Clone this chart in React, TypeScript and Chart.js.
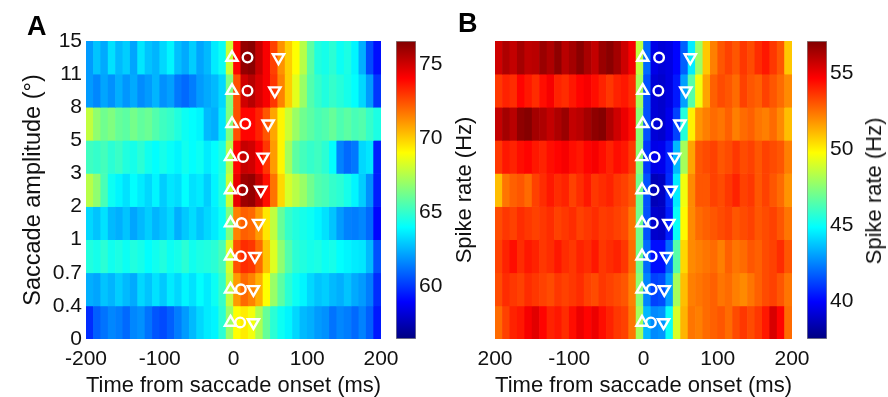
import React, { useEffect, useRef } from 'react';
import { Chart, registerables } from 'chart.js';

Chart.register(...registerables);

// ---------- data ----------
// time bins (ms from saccade onset), edges of 10 ms bins
const binEdges = [
  -200, -190, -180, -170, -160, -150, -140, -130, -120, -110,
  -100, -90, -80, -70, -60, -50, -40, -30, -20, -10,
  0, 10, 20, 30, 40, 50, 60, 70, 80, 90,
  100, 110, 120, 130, 140, 150, 160, 170, 180, 190, 200,
];
const timeTicks = [-200, -100, 0, 100, 200];
// saccade amplitude bin edges (deg), bottom -> top
const amplitudeEdges = ['0', '0.4', '0.7', '1', '2', '3', '5', '8', '11', '15'];

// Panel A: spike rate (Hz) per amplitude row (top row first)
const A_11_15 = [62.0, 62.8, 62.3, 63.4, 62.6, 63.0, 62.2, 63.5, 62.8, 62.5, 63.2, 63.8, 62.7, 62.3, 63.0, 62.2, 62.6, 63.6, 64.2, 68.0, 74.0, 76.2, 76.4, 75.2, 74.2, 72.8, 71.2, 70.0, 69.0, 67.6, 65.8, 64.6, 64.4, 64.8, 64.2, 64.5, 63.8, 62.4, 60.4, 59.2];
const A_8_11 = [62.0, 61.6, 62.2, 61.8, 62.4, 61.9, 62.3, 61.7, 62.0, 62.5, 61.8, 62.1, 61.3, 61.0, 61.4, 62.0, 62.3, 62.6, 63.2, 66.5, 72.5, 75.0, 75.5, 74.8, 74.2, 73.0, 71.5, 70.0, 68.5, 67.0, 65.6, 65.0, 64.6, 65.0, 64.7, 64.4, 64.0, 63.2, 62.0, 60.0];
const A_5_8 = [67.8, 66.8, 66.2, 66.5, 66.0, 65.8, 66.3, 65.9, 66.1, 65.6, 65.2, 65.0, 64.6, 64.2, 64.0, 63.8, 62.6, 62.4, 63.5, 66.5, 72.5, 74.0, 74.0, 73.4, 72.4, 70.8, 69.2, 68.0, 67.0, 66.2, 65.8, 65.4, 65.6, 66.0, 65.5, 65.8, 65.4, 65.6, 65.0, 64.5];
const A_3_5 = [65.2, 65.0, 65.3, 64.8, 65.1, 64.6, 64.4, 64.8, 64.3, 64.0, 64.4, 64.1, 63.8, 64.3, 64.0, 64.2, 63.6, 64.0, 64.5, 67.5, 74.0, 75.2, 75.0, 74.2, 73.0, 71.0, 69.2, 67.2, 65.8, 65.3, 65.0, 65.2, 64.8, 64.0, 61.5, 61.0, 61.3, 63.2, 63.5, 59.5];
const A_2_3 = [67.6, 66.8, 65.4, 64.2, 63.8, 63.4, 64.0, 63.6, 63.2, 63.8, 63.0, 63.5, 63.3, 64.0, 63.4, 63.6, 63.0, 63.8, 64.6, 68.0, 74.5, 76.0, 76.2, 75.2, 73.8, 71.8, 69.8, 68.2, 67.6, 67.0, 66.2, 65.6, 65.4, 65.0, 64.8, 64.4, 63.8, 63.0, 61.8, 59.5];
const A_1_2 = [63.2, 62.8, 63.4, 62.6, 62.4, 62.8, 62.2, 62.6, 63.0, 62.5, 62.8, 63.2, 62.4, 62.9, 63.3, 62.8, 63.2, 63.6, 64.2, 66.5, 71.5, 72.2, 72.0, 71.0, 69.5, 67.8, 66.0, 65.0, 64.6, 64.4, 64.2, 63.8, 63.4, 62.8, 62.0, 61.5, 61.4, 61.6, 61.0, 59.0];
const A_07_1 = [64.6, 64.4, 64.8, 64.3, 64.5, 64.2, 64.6, 64.4, 64.0, 64.3, 64.6, 64.2, 64.4, 64.8, 64.3, 64.5, 64.6, 64.8, 65.4, 68.2, 72.5, 73.2, 73.0, 72.0, 70.2, 68.4, 66.8, 65.6, 64.8, 64.6, 64.4, 64.5, 64.2, 64.4, 64.0, 63.8, 63.6, 63.5, 62.6, 60.5];
const A_04_07 = [62.4, 62.2, 62.8, 62.5, 63.0, 62.6, 62.3, 63.2, 62.8, 63.4, 62.9, 63.6, 63.2, 63.8, 63.4, 64.0, 63.6, 64.2, 65.0, 67.8, 71.0, 72.0, 71.5, 70.6, 69.0, 67.0, 65.8, 64.8, 64.2, 63.8, 63.2, 62.8, 63.0, 62.6, 62.4, 62.8, 62.3, 62.0, 61.4, 59.8];
const A_0_04 = [59.8, 60.8, 61.2, 61.6, 61.4, 61.0, 61.6, 61.8, 61.2, 60.6, 60.4, 60.8, 61.4, 62.0, 62.6, 63.2, 63.6, 63.8, 64.8, 67.0, 69.0, 69.4, 68.8, 67.4, 66.0, 64.8, 64.2, 63.8, 63.2, 62.6, 62.4, 62.0, 61.8, 61.2, 61.6, 61.4, 61.0, 61.5, 60.8, 59.4];

// Panel B
const B_11_15 = [55.6, 56.2, 55.8, 56.4, 55.9, 56.0, 56.6, 56.2, 56.8, 56.0, 56.4, 56.9, 56.3, 55.8, 56.6, 56.9, 56.4, 55.6, 54.8, 48.5, 42.0, 39.5, 39.2, 39.4, 40.0, 41.8, 44.5, 47.8, 50.8, 52.2, 53.0, 53.4, 53.0, 53.6, 53.2, 53.8, 54.2, 53.6, 53.0, 50.8];
const B_8_11 = [53.6, 54.0, 53.8, 54.6, 54.2, 53.8, 54.4, 54.8, 54.0, 53.8, 54.2, 54.6, 54.8, 54.4, 54.0, 53.6, 54.0, 54.2, 53.8, 48.0, 41.5, 39.2, 39.0, 39.4, 40.4, 43.0, 46.5, 49.5, 51.5, 52.8, 53.2, 53.0, 52.6, 53.4, 53.0, 52.8, 53.4, 53.0, 52.6, 52.0];
const B_5_8 = [55.8, 56.4, 56.0, 56.8, 57.0, 56.4, 56.2, 55.8, 56.2, 56.6, 55.8, 56.0, 56.4, 56.8, 57.0, 56.2, 55.6, 55.0, 54.4, 47.5, 41.5, 39.2, 39.0, 39.6, 41.2, 45.5, 50.0, 51.8, 52.2, 52.6, 52.4, 52.8, 52.2, 52.6, 52.8, 52.4, 52.2, 52.6, 52.0, 51.0];
const B_3_5 = [53.6, 54.2, 54.0, 54.4, 54.6, 54.2, 54.0, 54.4, 54.6, 54.8, 54.4, 54.2, 54.6, 54.8, 54.4, 54.0, 54.4, 54.2, 53.6, 47.5, 41.0, 39.5, 39.6, 40.6, 43.5, 48.0, 51.5, 53.0, 53.2, 53.4, 53.0, 53.2, 53.6, 53.2, 53.4, 53.0, 53.4, 53.2, 53.0, 52.2];
const B_2_3 = [51.0, 52.4, 52.8, 53.0, 52.6, 53.4, 53.8, 54.2, 53.8, 54.0, 53.4, 53.8, 54.2, 53.6, 53.8, 54.0, 53.6, 53.4, 53.0, 47.0, 41.5, 38.6, 38.8, 40.8, 44.5, 49.5, 52.0, 53.0, 53.0, 53.4, 53.2, 53.6, 54.0, 53.4, 53.6, 53.0, 53.4, 53.0, 52.6, 51.8];
const B_1_2 = [53.2, 53.6, 53.4, 53.8, 53.6, 53.4, 53.6, 53.8, 53.4, 53.6, 53.8, 53.4, 53.6, 53.8, 53.5, 53.6, 53.4, 53.2, 52.4, 47.0, 41.5, 39.0, 38.9, 40.5, 45.0, 49.8, 52.0, 52.6, 52.8, 53.0, 53.2, 53.4, 53.0, 53.2, 53.4, 53.0, 53.2, 53.4, 53.0, 52.4];
const B_07_1 = [53.4, 54.0, 54.4, 53.8, 54.2, 54.0, 53.6, 53.8, 54.2, 53.8, 53.6, 54.0, 53.8, 54.2, 53.6, 53.8, 54.0, 53.6, 52.6, 47.0, 42.0, 40.2, 40.2, 42.0, 46.5, 50.5, 52.0, 52.2, 52.4, 52.6, 52.2, 52.8, 52.4, 52.6, 53.0, 52.8, 53.2, 53.4, 53.8, 53.0];
const B_04_07 = [53.2, 53.8, 53.6, 53.4, 53.8, 53.6, 53.4, 53.2, 53.6, 53.4, 53.6, 53.8, 53.4, 53.2, 53.6, 53.4, 53.2, 53.0, 52.2, 47.5, 42.5, 41.2, 41.4, 43.0, 48.0, 51.0, 52.2, 52.4, 52.6, 52.8, 52.4, 52.6, 52.2, 52.0, 52.4, 52.8, 53.2, 53.4, 53.0, 52.4];
const B_0_04 = [52.6, 53.4, 54.0, 54.2, 54.8, 55.2, 54.6, 54.0, 54.2, 53.8, 54.4, 55.0, 54.6, 55.0, 54.4, 54.0, 53.6, 53.4, 52.4, 48.0, 43.5, 42.6, 42.8, 45.0, 49.0, 51.2, 52.4, 52.2, 52.6, 52.8, 53.0, 52.6, 53.2, 53.6, 53.2, 53.6, 54.2, 55.4, 54.6, 52.6];

// event markers per row (top row first), ms
const A_onset = [-2, -2, -2, -4, -4, -4, -4, -4, -4];
const A_peak = [19, 19, 16, 13, 12, 11, 10, 10, 9];
const A_offset = [61, 56, 47, 40, 37, 34, 29, 27, 27];
const B_onset = [-1, -1, -1, -2, -2, -2, -2, -2, -2];
const B_peak = [21, 20, 18, 15, 13.5, 12.5, 11, 11, 10];
const B_offset = [63, 57, 49, 42, 37, 34, 31, 28, 27];

// colour scale limits (Hz) and colour-bar ticks
const A_range = [56.4, 76.6];
const B_range = [37.5, 57.1];
const A_cbTicks = [60, 65, 70, 75];
const B_cbTicks = [40, 45, 50, 55];

const rowsA = [A_11_15, A_8_11, A_5_8, A_3_5, A_2_3, A_1_2, A_07_1, A_04_07, A_0_04];
const rowsB = [B_11_15, B_8_11, B_5_8, B_3_5, B_2_3, B_1_2, B_07_1, B_04_07, B_0_04];

// ---------- styling ----------
const FONT = "'Liberation Sans', Arial, Helvetica, sans-serif";
const INK = '#111111';

function jet(t: number): string {
  const tt = Math.min(1, Math.max(0, t));
  const c = (x: number) => Math.round(255 * Math.min(1, Math.max(0, 1.5 - Math.abs(4 * tt - x))));
  return `rgb(${c(3)},${c(2)},${c(1)})`;
}

function useChart(factory: () => any) {
  const ref = useRef<HTMLCanvasElement | null>(null);
  useEffect(() => {
    if (!ref.current) return;
    const chart = new Chart(ref.current, factory());
    return () => chart.destroy();
  }, []);
  return ref;
}

type HeatProps = {
  left: number; width: number; rows: number[][]; range: number[];
  onset: number[]; peak: number[]; offset: number[];
  showY: boolean; padLeft: number; padRight: number; xLabel: (v: number) => string;
};

function Heatmap(p: HeatProps) {
  const H = 397;
  const ref = useChart(() => {
    const [vmin, vmax] = p.range;
    const nRows = p.rows.length;
    const rowY = (r: number) => nRows - r - 0.5;
    const marker = (times: number[], style: string, rot: number, radius: number) => ({
      type: 'scatter',
      order: 0,
      data: times.map((t, r) => ({ x: t, y: rowY(r) })),
      pointStyle: style,
      pointRotation: rot,
      pointRadius: radius,
      pointHoverRadius: radius,
      pointBorderColor: '#ffffff',
      pointBackgroundColor: 'rgba(0,0,0,0)',
      pointBorderWidth: 2.4,
      showLine: false,
    });
    return {
      type: 'bar',
      data: {
        datasets: [
          ...p.rows.map((vals, r) => ({
            type: 'bar',
            indexAxis: 'y',
            grouped: false,
            barPercentage: 1,
            categoryPercentage: 1,
            order: 2,
            borderWidth: 0,
            data: vals.map((v, k) => ({ y: rowY(r), x: [binEdges[k], binEdges[k + 1]] })),
            backgroundColor: vals.map((v) => jet((v - vmin) / (vmax - vmin))),
          })),
          marker(p.onset, 'triangle', 0, 6.5),
          marker(p.peak, 'circle', 0, 4.8),
          marker(p.offset, 'triangle', 180, 6.5),
        ],
      },
      options: {
        responsive: false,
        animation: false,
        events: [],
        layout: { padding: { top: 41, bottom: 0, left: p.padLeft, right: p.padRight } },
        plugins: { legend: { display: false }, tooltip: { enabled: false } },
        scales: {
          x: {
            type: 'linear', min: -200, max: 200, beginAtZero: false, offset: false,
            afterBuildTicks: (s: any) => { s.ticks = timeTicks.map((v) => ({ value: v })); },
            ticks: {
              font: { family: FONT, size: 21 }, color: INK, padding: 8, maxRotation: 0, autoSkip: false,
              callback: (v: number) => p.xLabel(v),
            },
            grid: { display: false, drawTicks: false },
            border: { display: false },
            title: {
              display: true, text: 'Time from saccade onset (ms)',
              font: { family: FONT, size: 22.5 }, color: INK, padding: { top: 0, bottom: -2 },
            },
            afterFit: (s: any) => { s.height = 58; },
          },
          y: {
            type: 'linear', min: 0, max: nRows, offset: false, display: p.showY,
            afterBuildTicks: (s: any) => { s.ticks = amplitudeEdges.map((_, i) => ({ value: i })); },
            ticks: {
              font: { family: FONT, size: 21 }, color: INK, padding: 4, autoSkip: false,
              callback: (v: number) => amplitudeEdges[Math.round(v)],
            },
            grid: { display: false, drawTicks: false },
            border: { display: false },
            title: {
              display: true, text: 'Saccade amplitude (°)',
              font: { family: FONT, size: 23.5 }, color: INK, padding: { top: 19, bottom: 0 },
            },
            afterFit: (s: any) => { s.width = p.showY ? 86 : 0; },
          },
        },
      },
    };
  });
  return (
    <canvas ref={ref} width={p.width} height={H}
      style={{ position: 'absolute', left: p.left, top: 0, width: p.width, height: H }} />
  );
}

type CbProps = { left: number; width: number; range: number[]; ticks: number[]; padLeft: number; axisWidth: number };

function Colorbar(p: CbProps) {
  const H = 397;
  const ref = useChart(() => {
    const [vmin, vmax] = p.range;
    return {
      type: 'bar',
      data: {
        labels: ['Spike rate'],
        datasets: [{
          data: [[vmin, vmax]],
          barPercentage: 1,
          categoryPercentage: 1,
          borderColor: '#8a8a8a',
          borderWidth: 1,
          borderSkipped: false,
          backgroundColor: (ctx: any) => {
            const chart = ctx.chart;
            if (!chart.chartArea) return 'rgba(0,0,0,0)';
            const ys = chart.scales.y;
            const g = chart.ctx.createLinearGradient(0, ys.getPixelForValue(vmin), 0, ys.getPixelForValue(vmax));
            [0, 0.125, 0.375, 0.625, 0.875, 1].forEach((t) => g.addColorStop(t, jet(t)));
            return g;
          },
        }],
      },
      options: {
        responsive: false,
        animation: false,
        events: [],
        layout: { padding: { top: 41, bottom: 58, left: p.padLeft, right: 0 } },
        plugins: { legend: { display: false }, tooltip: { enabled: false } },
        scales: {
          x: { display: false, offset: true },
          y: {
            type: 'linear', position: 'right', min: vmin, max: vmax, beginAtZero: false, z: 1,
            afterBuildTicks: (s: any) => { s.ticks = p.ticks.map((v) => ({ value: v })); },
            ticks: { font: { family: FONT, size: 21 }, color: INK, padding: 7 },
            grid: { drawOnChartArea: false, drawTicks: true, tickLength: -4, tickColor: '#666', lineWidth: 1 },
            border: { display: false },
            afterFit: (s: any) => { s.width = p.axisWidth; },
          },
        },
      },
    };
  });
  return (
    <canvas ref={ref} width={p.width} height={H}
      style={{ position: 'absolute', left: p.left, top: 0, width: p.width, height: H }} />
  );
}

const letterStyle: React.CSSProperties = {
  position: 'absolute', fontSize: 27, fontWeight: 'bold', lineHeight: '27px', fontFamily: FONT, color: '#000',
};
const cbTitleStyle: React.CSSProperties = {
  position: 'absolute', fontSize: 22, lineHeight: '22px', fontFamily: FONT, color: INK,
  whiteSpace: 'nowrap', transform: 'translate(-50%, -50%) rotate(-90deg)',
};

export default function App() {
  return (
    <div style={{ position: 'fixed', left: 0, top: 0, width: 888, height: 397, background: '#fff', overflow: 'hidden' }}>
      <Heatmap left={0} width={440} rows={rowsA} range={A_range} onset={A_onset} peak={A_peak} offset={A_offset}
        showY={true} padLeft={0} padRight={59} xLabel={(v) => String(v)} />
      <Colorbar left={390} width={90} range={A_range} ticks={A_cbTicks} padLeft={6} axisWidth={64} />
      <Heatmap left={440} width={448} rows={rowsB} range={B_range} onset={B_onset} peak={B_peak} offset={B_offset}
        showY={false} padLeft={55} padRight={96} xLabel={(v) => (v === -200 ? '200' : String(v))} />
      <Colorbar left={800} width={88} range={B_range} ticks={B_cbTicks} padLeft={7} axisWidth={61} />
      <div style={{ ...letterStyle, left: 27, top: 13 }}>A</div>
      <div style={{ ...letterStyle, left: 458, top: 10 }}>B</div>
      <div style={{ ...cbTitleStyle, left: 464, top: 190 }}>Spike rate (Hz)</div>
      <div style={{ ...cbTitleStyle, left: 874, top: 191 }}>Spike rate (Hz)</div>
    </div>
  );
}
